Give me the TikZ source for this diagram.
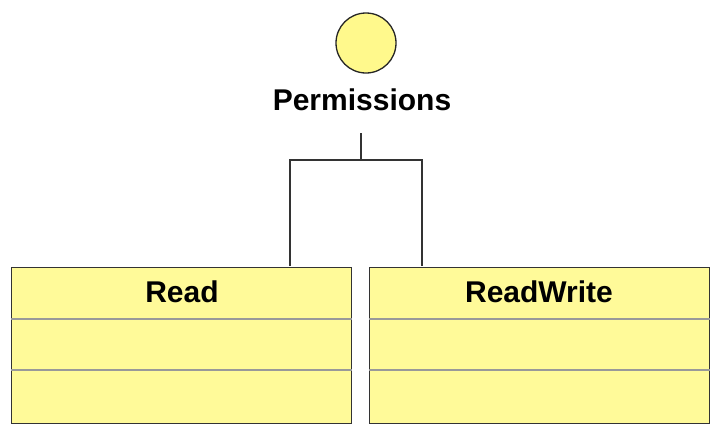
\documentclass[tikz,border=0pt]{standalone}
\usepackage{fontspec}
\setmainfont{Liberation Sans}
\begin{document}
\begin{tikzpicture}[x=1pt,y=-1pt,
  lbl/.style={font=\fontsize{30}{35}\selectfont\bfseries, inner sep=0pt, anchor=base},
  cls/.style={draw=black!80, fill=yellow!40!white, line width=1.5pt, minimum width=340pt, minimum height=156pt, inner sep=0pt, anchor=north west},
  sep/.style={draw=black!40, line width=1.2pt},
  conn/.style={draw=black!80, line width=1.3pt}]
\useasboundingbox (0,0) rectangle (720,437);
\node[draw=black!85, fill=yellow!45!white, line width=1.3pt, circle, minimum size=60pt, inner sep=0pt] (iface) at (366,43) {};
\node[lbl] (ptxt) at (362,110) {Permissions};
\coordinate (top) at (361,133);
\coordinate (junc) at (361,160);
\node[cls] (read) at (10.5,266.5) {};
\node[cls] (rw) at (368.5,266.5) {};
\draw[sep] (read.west |- 0,319) -- (read.east |- 0,319) (read.west |- 0,370) -- (read.east |- 0,370);
\draw[sep] (rw.west |- 0,319) -- (rw.east |- 0,319) (rw.west |- 0,370) -- (rw.east |- 0,370);
\node[lbl] (rtxt) at (182,302) {Read};
\node[lbl] (rwtxt) at (539,302) {ReadWrite};
\coordinate (ra) at (290,266);
\coordinate (rwa) at (422,266);
\draw[conn] (top) -- (junc);
\draw[conn] (ra) -- (290,160) -- (422,160) -- (rwa);
\end{tikzpicture}
\end{document}
